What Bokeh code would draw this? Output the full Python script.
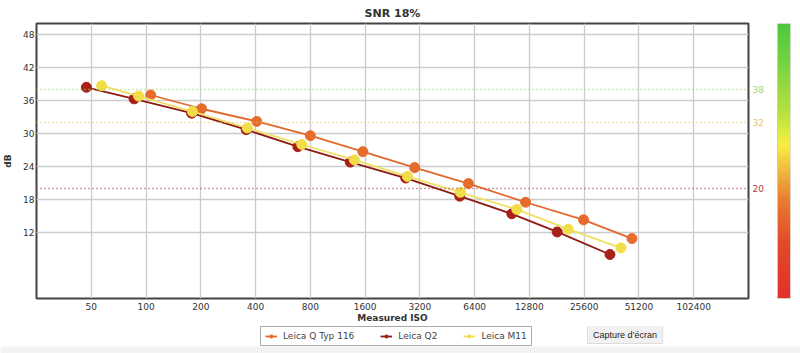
import numpy as np
from bokeh.plotting import figure
from bokeh.layouts import row, column
from bokeh.models import (FixedTicker, NumeralTickFormatter, Span, Legend, LegendItem,
                          LinearColorMapper, Range1d)
from bokeh.core.properties import value
from bokeh.embed import file_html
from bokeh.resources import INLINE

# ---------------- data ----------------
iso_q116 = [106, 202, 406, 800, 1555, 2996, 5915, 12190, 25400, 46860]
snr_q116 = [37.0, 34.5, 32.2, 29.6, 26.7, 23.8, 20.9, 17.5, 14.3, 10.9]
iso_q2 = [47, 86, 178, 355, 683, 1326, 2673, 5300, 10245, 18190, 35470]
snr_q2 = [38.4, 36.3, 33.7, 30.7, 27.6, 24.8, 21.9, 18.6, 15.4, 12.1, 8.0]
iso_m11 = [57, 91, 180, 360, 718, 1396, 2731, 5345, 10910, 20910, 40760]
snr_m11 = [38.7, 36.8, 34.0, 31.0, 28.0, 25.2, 22.2, 19.3, 16.2, 12.6, 9.2]

series_names = ["Leica Q Typ 116", "Leica Q2", "Leica M11"]
x_ticks = [50, 100, 200, 400, 800, 1600, 3200, 6400, 12800, 25600, 51200, 102400]
y_ticks = [12, 18, 24, 30, 36, 42, 48]
ref_levels = [38, 32, 20]
ref_labels = ["38", "32", "20"]

FONT = "DejaVu Sans"
TOP, BOTTOM = 23, 28
MAIN_H = 326

p = figure(width=750, height=MAIN_H, x_axis_type="log", output_backend="svg",
           toolbar_location=None, x_range=Range1d(25, 204800), y_range=Range1d(0, 50),
           min_border_left=36, min_border_right=2, min_border_top=TOP, min_border_bottom=BOTTOM)

p.title.text = "SNR 18%"
p.title.align = "center"
p.title.text_font = FONT
p.title.text_font_size = "11px"
p.title.text_color = "#333333"
p.title.text_font_style = "bold"
p.title.standoff = 8

p.outline_line_color = "#444444"
p.outline_line_width = 2

p.xaxis.ticker = FixedTicker(ticks=x_ticks)
p.xaxis.formatter = NumeralTickFormatter(format="0")
p.yaxis.ticker = FixedTicker(ticks=y_ticks)
p.xgrid.ticker = FixedTicker(ticks=x_ticks)
p.ygrid.ticker = FixedTicker(ticks=y_ticks)
for ax in (p.xaxis, p.yaxis):
    ax.axis_line_color = None
    ax.major_tick_line_color = None
    ax.minor_tick_line_color = None
    ax.major_tick_out = 0
    ax.major_tick_in = 0
    ax.minor_tick_out = 0
    ax.minor_tick_in = 0
    ax.major_label_text_font = FONT
    ax.major_label_text_font_size = "9px"
    ax.major_label_text_color = "#333333"
    ax.axis_label_text_font = FONT
    ax.axis_label_text_font_size = "9px"
    ax.axis_label_text_font_style = "bold"
    ax.axis_label_text_color = "#333333"
p.xaxis.axis_label = "Measured ISO"
p.yaxis.axis_label = "dB"
p.xaxis.major_label_standoff = 4
p.xaxis.axis_label_standoff = 0
p.yaxis.major_label_standoff = 2
p.yaxis.axis_label_standoff = 7

p.grid.grid_line_color = "#cccccc"
p.grid.grid_line_width = 1.3

# reference lines
ref_line_colors = ["#96d860", "#f0c860", "#b83848"]
ref_text_colors = ["#9ed470", "#e6c474", "#b23c3c"]
for lvl, lc in zip(ref_levels, ref_line_colors):
    p.add_layout(Span(location=lvl, dimension="width", line_color=lc,
                      line_dash="1 3", line_width=1.3))

colors_line = ["#e2692c", "#8e1a12", "#f0e060"]
colors_pt = ["#e66c2c", "#a82018", "#f2dc48"]
data = [(iso_q116, snr_q116), (iso_q2, snr_q2), (iso_m11, snr_m11)]
for (xs, ys), cl, cp in zip(data, colors_line, colors_pt):
    p.line(xs, ys, line_color=cl, line_width=1.8)
    p.scatter(xs, ys, size=10, fill_color=cp, line_color=cp)

# ---------------- right strip: level labels + gradient bar ----------------
stops = [(0.0, "#e2302a"), (0.2, "#e24a2a"), (0.35, "#e87a30"), (0.45, "#f0b03c"),
         (0.56, "#f6f040"), (0.68, "#b8e040"), (0.85, "#78d440"), (1.0, "#4cc83c")]
def hex2rgb(h):
    return np.array([int(h[i:i + 2], 16) for i in (1, 3, 5)], dtype=float)
pal = []
for t in np.linspace(0, 1, 256):
    for (t0, c0), (t1, c1) in zip(stops[:-1], stops[1:]):
        if t0 <= t <= t1:
            f = (t - t0) / (t1 - t0)
            c = hex2rgb(c0) * (1 - f) + hex2rgb(c1) * f
            pal.append("#%02x%02x%02x" % tuple(int(round(v)) for v in c))
            break
mapper = LinearColorMapper(palette=pal, low=0, high=50)

g = figure(width=50, height=MAIN_H, output_backend="svg", toolbar_location=None,
           x_range=Range1d(0, 40), y_range=Range1d(0, 50),
           min_border_left=0, min_border_right=10, min_border_top=TOP, min_border_bottom=BOTTOM)
g.axis.visible = False
g.grid.visible = False
g.outline_line_color = None
grad = np.linspace(0, 50, 256).reshape(256, 1)
g.image(image=[grad], x=27, y=0, dw=13, dh=50, color_mapper=mapper)
g.quad(left=[27], right=[40], bottom=[0], top=[50], fill_color=None, line_color="#c8c8c8")
g.text(x=[2] * len(ref_levels), y=ref_levels, text=ref_labels, text_color=ref_text_colors,
       text_font=value(FONT), text_font_size="9px", text_align="left", text_baseline="middle")

# ---------------- bottom strip: legend ----------------
LEG_H = 353 - MAIN_H
leg = figure(width=800, height=LEG_H, output_backend="svg", toolbar_location=None,
             x_range=Range1d(0, 800), y_range=Range1d(0, LEG_H), min_border=0)
leg.axis.visible = False
leg.grid.visible = False
leg.outline_line_color = None
leg.quad(left=[0], right=[800], bottom=[0], top=[7], fill_color="#f3f3f3", line_color=None)
items = []
for name, cl, cp in zip(series_names, colors_line, colors_pt):
    # off-screen placeholder renderers that only supply the legend swatches
    ln = leg.line([-20, -10], [-20, -20], line_color=cl, line_width=1.8)
    sc = leg.scatter([-20], [-20], size=7, fill_color=cp, line_color=cp)
    items.append(LegendItem(label=name, renderers=[ln, sc]))
legend = Legend(items=items, orientation="horizontal", location=(260, 7),
                label_text_font=FONT, label_text_font_size="9px", label_text_color="#444444",
                glyph_width=12, glyph_height=8, label_height=10, spacing=26,
                padding=4, margin=0, border_line_color="#555555", border_line_width=1.5,
                label_standoff=6, background_fill_color="white", background_fill_alpha=1)
leg.add_layout(legend, "center")

# screenshot tooltip seen in the reference
leg.rect(x=[624.5], y=[18.5], width=[75], height=[17], fill_color="#f1f1f1",
         line_color="#dddddd")
leg.text(x=[624.5], y=[18.5], text=["Capture d\u2019écran"], text_font=value("Liberation Sans"),
         text_font_size="9px", text_color="#222222", text_align="center",
         text_baseline="middle")

layout = column(row(p, g), leg)
open("out.html", "w").write(file_html(layout, INLINE))
